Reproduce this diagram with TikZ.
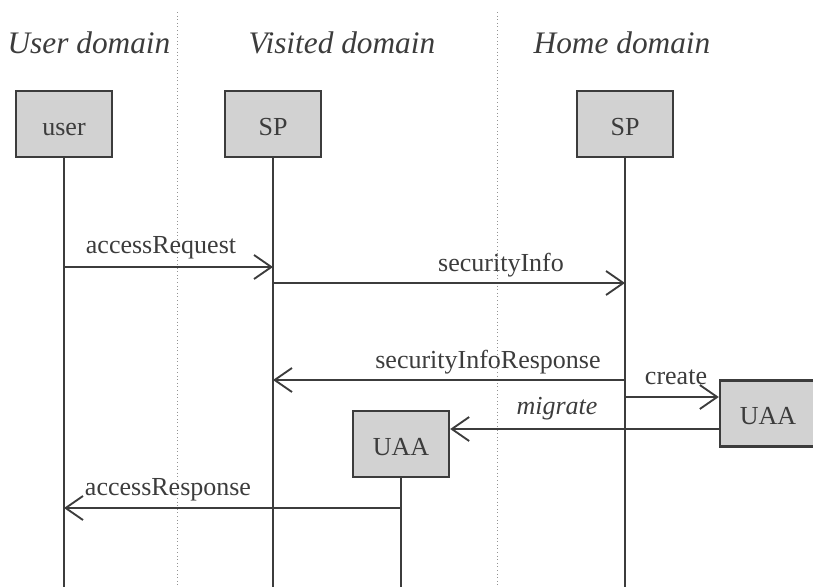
\documentclass[tikz,border=0pt]{standalone}
\usepackage{fontspec}
\setmainfont{Liberation Serif}
\usetikzlibrary{arrows.meta}
\definecolor{boxfill}{HTML}{D2D2D2}
\definecolor{ink}{HTML}{3C3C3C}
\begin{document}
\begin{tikzpicture}[x=0.75pt,y=-0.75pt,
  objbox/.style={draw=ink,line width=1.8pt,fill=boxfill,minimum width=72pt,minimum height=49.5pt,inner sep=0pt,text height=18pt,text depth=1.4pt,font=\fontsize{19.5}{22}\selectfont,text=ink},
  lifeline/.style={draw=ink,line width=1pt},
  msg/.style={draw=ink,line width=1.6pt,-{Straight Barb[length=13pt,width=18pt,line width=1.4pt]}},
  lbl/.style={font=\fontsize{19.5}{22}\selectfont,text=ink,inner sep=0pt},
  ttl/.style={font=\itshape\fontsize{23.5}{26}\selectfont,text=ink,inner sep=0pt},
  sep/.style={draw=gray!85,line width=0.7pt,dotted}]
\useasboundingbox (0,0) rectangle (813,587);
\clip (0,0) rectangle (813,587);
% domain separators
\coordinate (s1t) at (177,12); \coordinate (s1b) at (177,587);
\coordinate (s2t) at (497,12); \coordinate (s2b) at (497,587);
\draw[sep] (s1t) -- (s1b);
\draw[sep] (s2t) -- (s2b);
% titles
\node[ttl] (tuser) at (89,43) {User domain};
\node[ttl] (tvis) at (342,43) {Visited domain};
\node[ttl] (thome) at (622,43) {Home domain};
% objects
\node[objbox] (user) at (64,124) {user};
\node[objbox] (spv) at (273,124) {SP};
\node[objbox] (sph) at (625,124) {SP};
\node[objbox] (uaah) at (768,413.5) {UAA};
\node[objbox] (uaav) at (401,444) {UAA};
% lifeline ends
\coordinate (userb) at (64,587);
\coordinate (spvb) at (273,587);
\coordinate (sphb) at (625,587);
\coordinate (uaavb) at (401,587);
\draw[lifeline] (user.south) -- (userb);
\draw[lifeline] (spv.south) -- (spvb);
\draw[lifeline] (sph.south) -- (sphb);
\draw[lifeline] (uaav.south) -- (uaavb);
% message points
\coordinate (m1a) at (64,267); \coordinate (m1b) at (273,267);
\coordinate (m2a) at (273,283); \coordinate (m2b) at (625,283);
\coordinate (m3a) at (625,380); \coordinate (m3b) at (273,380);
\coordinate (m4a) at (625,397);
\coordinate (m5b) at (64,508); \coordinate (m5a) at (401,508);
\draw[msg] (m1a) -- (m1b);
\draw[msg] (m2a) -- (m2b);
\draw[msg] (m3a) -- (m3b);
\draw[msg] (m4a) -- (uaah.west |- m4a);
\draw[msg] (uaah.west |- 0,429) -- (uaav.east |- 0,429);
\draw[msg] (m5a) -- (m5b);
% labels
\node[lbl] (l1) at (161,248) {accessRequest};
\node[lbl] (l2) at (501,265) {securityInfo};
\node[lbl] (l3) at (488,362) {securityInfoResponse};
\node[lbl] (l4) at (676,377) {create};
\node[lbl,font=\itshape\fontsize{19.5}{22}\selectfont] (l5) at (557,409) {migrate};
\node[lbl] (l6) at (168,490) {accessResponse};
\end{tikzpicture}
\end{document}
